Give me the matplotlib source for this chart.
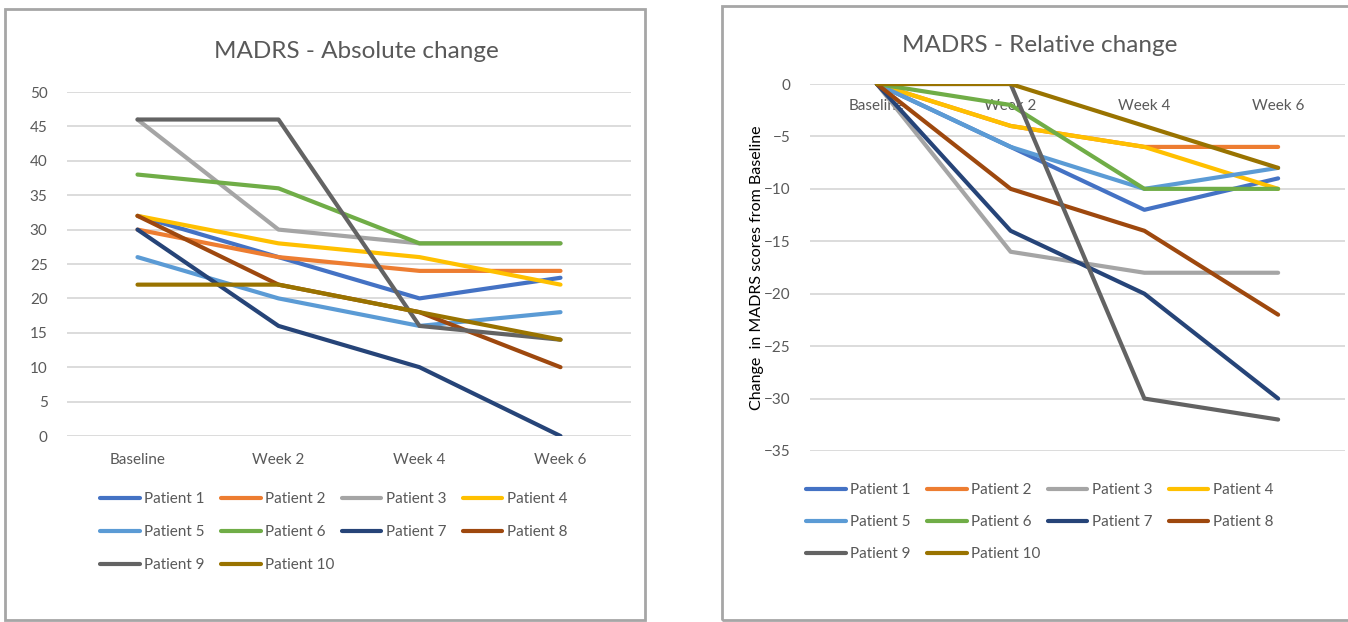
import matplotlib.pyplot as plt
from matplotlib.patches import Rectangle

plt.rcParams.update({
    "font.family": ["Lato", "DejaVu Sans"],
    "font.size": 11,
    "text.color": "#595959",
    "xtick.color": "#595959",
    "ytick.color": "#595959",
})

VISITS = ["Baseline", "Week 2", "Week 4", "Week 6"]
PATIENTS = [f"Patient {i}" for i in range(1, 11)]

# Absolute MADRS score per patient at each visit
p1 = [32, 26, 20, 23]
p2 = [30, 26, 24, 24]
p3 = [46, 30, 28, 28]
p4 = [32, 28, 26, 22]
p5 = [26, 20, 16, 18]
p6 = [38, 36, 28, 28]
p7 = [30, 16, 10, 0]
p8 = [32, 22, 18, 10]
p9 = [46, 46, 16, 14]
p10 = [22, 22, 18, 14]
ABSOLUTE = [p1, p2, p3, p4, p5, p6, p7, p8, p9, p10]

# Change from baseline per patient
r1 = [0, -6, -12, -9]
r2 = [0, -4, -6, -6]
r3 = [0, -16, -18, -18]
r4 = [0, -4, -6, -10]
r5 = [0, -6, -10, -8]
r6 = [0, -2, -10, -10]
r7 = [0, -14, -20, -30]
r8 = [0, -10, -14, -22]
r9 = [0, 0, -30, -32]
r10 = [0, 0, -4, -8]
RELATIVE = [r1, r2, r3, r4, r5, r6, r7, r8, r9, r10]

COLORS = ["#4472C4", "#ED7D31", "#A5A5A5", "#FFC000", "#5B9BD5",
          "#70AD47", "#264478", "#9E480E", "#636363", "#997300"]

W, H = 1348, 622
GRID = "#d9d9d9"


def px_axes(fig, x0, x1, ytop, ybot):
    return fig.add_axes([x0 / W, 1 - ybot / H, (x1 - x0) / W, (ybot - ytop) / H])


def style_axes(ax):
    for s in ax.spines.values():
        s.set_visible(False)
    ax.yaxis.grid(True, color=GRID, linewidth=1.3)
    ax.set_axisbelow(True)
    ax.tick_params(axis="both", length=0, labelsize=11)
    ax.set_xlim(-0.5, 3.5)


def add_legend(fig, ax, x, y, step):
    # one legend per row so the columns stay evenly spaced, like Excel
    lines = ax.get_lines()
    for row in range(3):
        idx = list(range(row * 4, min(row * 4 + 4, len(lines))))
        fig.legend(
            [lines[i] for i in idx], [PATIENTS[i] for i in idx],
            ncol=4, loc="center left",
            bbox_to_anchor=(x / W, 1 - (y + row * step) / H), frameon=False,
            handlelength=2.6, handletextpad=0.3, columnspacing=1.05,
            fontsize=11, borderaxespad=0, borderpad=0,
        )


fig = plt.figure(figsize=(W / 100, H / 100), dpi=100)

# panel frames
fig.add_artist(Rectangle((5 / W, 1 - 620 / H), 640 / W, 611 / H, transform=fig.transFigure,
                         fill=False, edgecolor="#a6a6a6", linewidth=2))
fig.add_artist(Rectangle((722 / W, 1 - 620 / H), 640 / W, 614 / H, transform=fig.transFigure,
                         fill=False, edgecolor="#a6a6a6", linewidth=2))

x = range(len(VISITS))

# left: absolute scores
ax1 = px_axes(fig, 67, 631, 92, 436)
style_axes(ax1)
for vals, c in zip(ABSOLUTE, COLORS):
    ax1.plot(x, vals, color=c, linewidth=3.0, solid_capstyle="round")
ax1.set_ylim(0, 50)
ax1.set_yticks(range(0, 51, 5))
ax1.set_xticks(list(x))
ax1.set_xticklabels(VISITS)
ax1.tick_params(axis="x", pad=12)
ax1.tick_params(axis="y", pad=14)
fig.text(356 / W, 1 - 52 / H, "MADRS - Absolute change", ha="center", va="center", fontsize=17.5)
add_legend(fig, ax1, 100, 499, 33)

# right: change from baseline
ax2 = px_axes(fig, 810, 1345, 84, 451)
style_axes(ax2)
for vals, c in zip(RELATIVE, COLORS):
    ax2.plot(x, vals, color=c, linewidth=3.0, solid_capstyle="round", zorder=3)
ax2.set_ylim(-35, 0)
ax2.set_yticks(range(-35, 1, 5))
ax2.set_xticks([])
ax2.tick_params(axis="y", pad=14)
for i, lab in enumerate(VISITS):
    ax2.annotate(lab, (i, 0), xytext=(0, -16), textcoords="offset points",
                 ha="center", va="center", fontsize=11, color="#595959", zorder=2)
ax2.set_ylabel("Change  in MADRS scores from Baseline", fontsize=11.5, labelpad=0)
fig.text(1040 / W, 1 - 45 / H, "MADRS - Relative change", ha="center", va="center", fontsize=17.5)
add_legend(fig, ax2, 806, 490, 32)

fig.savefig("out.png", dpi=100)
